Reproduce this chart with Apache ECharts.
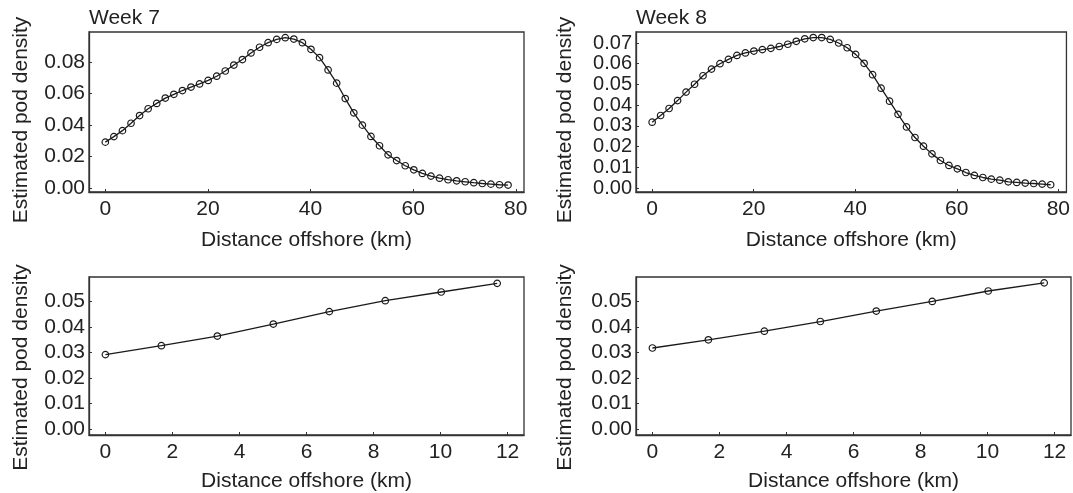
<!DOCTYPE html>
<html>
<head>
<meta charset="utf-8">
<script src="https://cdn.jsdelivr.net/npm/echarts@6/dist/echarts.min.js"></script>
<style>
  html, body { margin: 0; padding: 0; background: #fff; }
  #chart { width: 1073px; height: 493px; }
</style>
</head>
<body>
<div id="chart"></div>
<script>
// distance offshore (km) of each estimate
var distance = [0, 1.67, 3.34, 5.01, 6.68, 8.35, 10.02, 11.69, 13.36, 15.03, 16.70, 18.37,
  20.04, 21.71, 23.38, 25.05, 26.72, 28.39, 30.06, 31.73, 33.40, 35.07, 36.74, 38.41,
  40.08, 41.75, 43.42, 45.09, 46.76, 48.43, 50.10, 51.77, 53.44, 55.11, 56.78, 58.45,
  60.12, 61.79, 63.46, 65.13, 66.80, 68.47, 70.14, 71.81, 73.48, 75.15, 76.82, 78.49];

// estimated pod density, week 7
var week7 = [0.0292, 0.0327, 0.0365, 0.0412, 0.0461, 0.0504, 0.0538, 0.0572, 0.0596, 0.0620, 0.0642, 0.0662,
  0.0684, 0.0711, 0.0744, 0.0782, 0.0817, 0.0859, 0.0895, 0.0924, 0.0945, 0.0956, 0.0947, 0.0924,
  0.0882, 0.0829, 0.0751, 0.0667, 0.0569, 0.0478, 0.0400, 0.0328, 0.0269, 0.0211, 0.0175, 0.0142,
  0.0116, 0.0093, 0.0076, 0.0063, 0.0053, 0.0046, 0.0040, 0.0034, 0.0029, 0.0025, 0.0021, 0.0019];

// estimated pod density, week 8
var week8 = [0.0318, 0.0350, 0.0384, 0.0422, 0.0463, 0.0501, 0.0542, 0.0574, 0.0600, 0.0621, 0.0640, 0.0652,
  0.0661, 0.0668, 0.0674, 0.0683, 0.0694, 0.0708, 0.0720, 0.0726, 0.0726, 0.0717, 0.0700, 0.0677,
  0.0645, 0.0602, 0.0547, 0.0482, 0.0419, 0.0356, 0.0295, 0.0244, 0.0202, 0.0165, 0.0133, 0.0109,
  0.0093, 0.0075, 0.0061, 0.0051, 0.0043, 0.0038, 0.0030, 0.0027, 0.0024, 0.0022, 0.0019, 0.0016];

// the lower panels zoom in on the first points near shore
var nearShoreCount = 8;

var xTicksFull = [0, 20, 40, 60, 80];
var xTicksNear = [0, 2, 4, 6, 8, 10, 12];
var yTicksWeek7 = [0, 0.02, 0.04, 0.06, 0.08];
var yTicksWeek8 = [0, 0.01, 0.02, 0.03, 0.04, 0.05, 0.06, 0.07];
var yTicksNear = [0, 0.01, 0.02, 0.03, 0.04, 0.05];

var titles = ['Week 7', 'Week 8'];

function pairs(xs, ys, n) {
  var out = [];
  for (var i = 0; i < n; i++) out.push([xs[i], ys[i]]);
  return out;
}

var font = 'Liberation Sans, Arial, sans-serif';
var ink = '#1a1a1a';
var fs = 21;

var grids = [
  { left: 89, top: 32, width: 435, height: 160 },
  { left: 636, top: 32, width: 435, height: 160 },
  { left: 89, top: 277, width: 435, height: 160 },
  { left: 636, top: 277, width: 435, height: 160 }
].map(function (g) {
  return Object.assign(g, { show: true, borderColor: '#333', borderWidth: 1.3, backgroundColor: 'transparent' });
});

function xAxis(idx, min, max, ticks, gap) {
  return {
    type: 'value', gridIndex: idx, min: min, max: max,
    name: 'Distance offshore (km)', nameLocation: 'middle', nameGap: gap,
    nameTextStyle: { fontFamily: font, fontSize: fs, color: '#222' },
    axisLine: { show: true, onZero: false, lineStyle: { color: '#333', width: 1.3 } },
    axisTick: { show: true, inside: true, length: 3, customValues: ticks, lineStyle: { color: '#333' } },
    axisLabel: {
      customValues: ticks, margin: 7, hideOverlap: false, showMinLabel: true, showMaxLabel: true,
      fontFamily: font, fontSize: fs, color: '#222'
    },
    splitLine: { show: false }
  };
}

function yAxis(idx, min, max, ticks, gap, shift, labelSize) {
  return {
    type: 'value', gridIndex: idx, min: min, max: max,
    name: 'Estimated pod density', nameLocation: 'middle', nameGap: gap,
    nameTextStyle: { fontFamily: font, fontSize: fs, color: '#222', padding: [0, shift, 0, 0] },
    axisLine: { show: true, onZero: false, lineStyle: { color: '#333', width: 1.3 } },
    axisTick: { show: true, inside: true, length: 3, customValues: ticks, lineStyle: { color: '#333' } },
    axisLabel: {
      customValues: ticks, margin: 4, hideOverlap: false, showMinLabel: true, showMaxLabel: true,
      fontFamily: font, fontSize: labelSize, color: '#222',
      formatter: function (v) { return v.toFixed(2); }
    },
    splitLine: { show: false }
  };
}

function series(idx, data) {
  return {
    type: 'line', xAxisIndex: idx, yAxisIndex: idx, data: data,
    symbol: 'circle', symbolSize: 6.5, showAllSymbol: true,
    lineStyle: { color: ink, width: 1.3 },
    itemStyle: { color: 'rgba(255,255,255,0)', borderColor: ink, borderWidth: 1.2 },
    emphasis: { disabled: true }
  };
}

var chart = echarts.init(document.getElementById('chart'), null, { renderer: 'canvas' });
chart.setOption({
  animation: false,
  backgroundColor: '#fff',
  title: [
    { text: titles[0], left: 89, top: 8, padding: 0, textStyle: { fontFamily: font, fontSize: fs, fontWeight: 'normal', color: '#222' } },
    { text: titles[1], left: 636, top: 8, padding: 0, textStyle: { fontFamily: font, fontSize: fs, fontWeight: 'normal', color: '#222' } }
  ],
  grid: grids,
  xAxis: [
    xAxis(0, -3.18, 81.6, xTicksFull, 38),
    xAxis(1, -3.18, 81.6, xTicksFull, 38),
    xAxis(2, -0.49, 12.49, xTicksNear, 36),
    xAxis(3, -0.49, 12.49, xTicksNear, 36)
  ],
  yAxis: [
    yAxis(0, -0.0025, 0.0992, yTicksWeek7, 57, 16, fs),
    yAxis(1, -0.0019, 0.0753, yTicksWeek8, 60, 16, 20),
    yAxis(2, -0.0024, 0.0597, yTicksNear, 57, 23, fs),
    yAxis(3, -0.0024, 0.0597, yTicksNear, 60, 23, fs)
  ],
  series: [
    series(0, pairs(distance, week7, distance.length)),
    series(1, pairs(distance, week8, distance.length)),
    series(2, pairs(distance, week7, nearShoreCount)),
    series(3, pairs(distance, week8, nearShoreCount))
  ]
});
</script>
</body>
</html>
